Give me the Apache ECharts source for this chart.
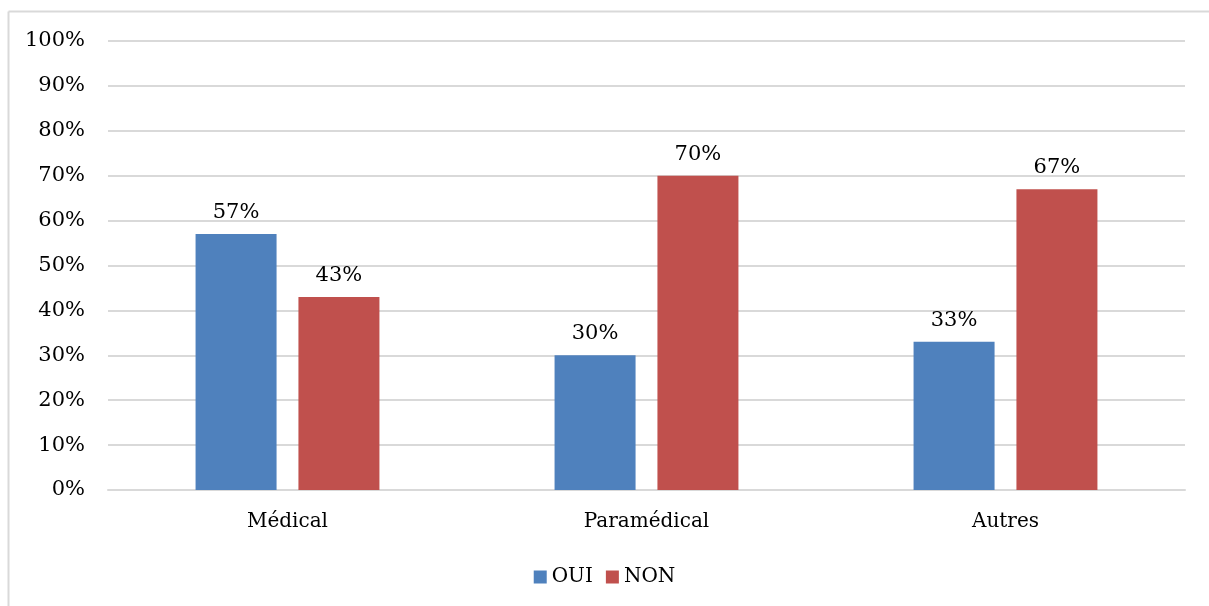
<!DOCTYPE html>
<html><head><meta charset="utf-8">
<script src="https://cdn.jsdelivr.net/npm/echarts@6/dist/echarts.min.js"></script>
<style>html,body{margin:0;padding:0;background:#fff}#c{width:1209px;height:606px}</style>
</head><body><div id="c"></div>
<script>
const categories = ['Médical', 'Paramédical', 'Autres'];
const oui = [57, 30, 33];
const non = [43, 70, 67];
const yTicks = [0, 10, 20, 30, 40, 50, 60, 70, 80, 90, 100];

const FONT = 'DejaVu Serif';
const chart = echarts.init(document.getElementById('c'));
const lbl = {show: true, position: 'top', formatter: p => p.value + '%', color: '#000', fontFamily: FONT, fontSize: 21, distance: 11};
chart.setOption({
  animation: false,
  textStyle: {fontFamily: FONT},
  graphic: [
    {type: 'line', shape: {x1: 8.5, y1: 11.5, x2: 1209, y2: 11.5}, style: {stroke: '#d9d9d9', lineWidth: 2}, silent: true},
    {type: 'line', shape: {x1: 8.5, y1: 11.5, x2: 8.5, y2: 606}, style: {stroke: '#d9d9d9', lineWidth: 2}, silent: true}
  ],
  grid: {left: 108, right: 24, top: 41, bottom: 116},
  legend: {top: 562, left: 'center', itemWidth: 13, itemHeight: 13, itemGap: 13, icon: 'rect',
    textStyle: {fontFamily: FONT, fontSize: 20, color: '#000'}, data: ['OUI', 'NON']},
  xAxis: {type: 'category', data: categories,
    axisLine: {lineStyle: {color: '#d9d9d9', width: 2}}, axisTick: {show: false},
    axisLabel: {color: '#000', fontFamily: FONT, fontSize: 20, margin: 22}},
  yAxis: {type: 'value', min: 0, max: 100, interval: 10,
    axisLine: {show: false}, axisTick: {show: false},
    splitLine: {lineStyle: {color: '#d9d9d9', width: 2}},
    axisLabel: {color: '#000', fontFamily: FONT, fontSize: 21, margin: 23, formatter: v => yTicks.includes(v) ? v + '%' : ''}},
  series: [
    {name: 'OUI', type: 'bar', data: oui, barWidth: 81, barGap: '27%', itemStyle: {color: '#4F81BD'}, label: lbl},
    {name: 'NON', type: 'bar', data: non, barWidth: 81, itemStyle: {color: '#C0504D'}, label: lbl}
  ]
});
</script></body></html>
